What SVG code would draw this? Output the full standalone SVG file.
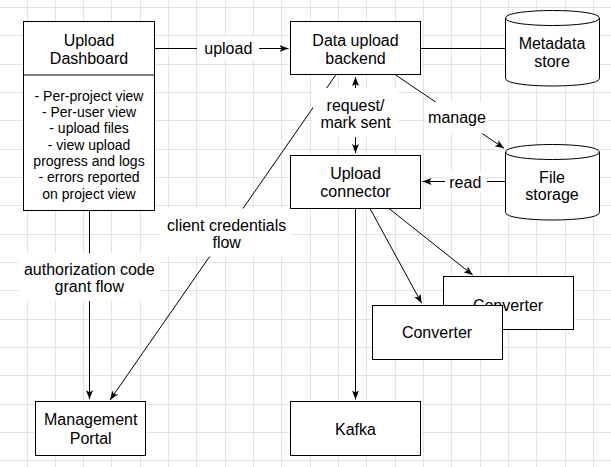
<svg xmlns="http://www.w3.org/2000/svg" width="611" height="467" viewBox="0 0 611 467">
  <style>
    .box { fill: #ffffff; stroke: #000000; stroke-width: 1; }
    .edge { fill: none; stroke: #000000; stroke-width: 1; }
    .t16 { font-family: "Liberation Sans", Arial, Helvetica, sans-serif; font-size: 16px; fill: #000000; text-anchor: middle; }
    .t14 { font-family: "Liberation Sans", Arial, Helvetica, sans-serif; font-size: 14px; fill: #000000; text-anchor: middle; }
    .lbg { fill: #ffffff; stroke: none; }
    .grid { fill: none; stroke: #e4e4e4; stroke-width: 1; shape-rendering: crispEdges; }
  </style>
  <defs>
    <marker id="arr" markerUnits="userSpaceOnUse" markerWidth="10" markerHeight="8" refX="9" refY="4" orient="auto-start-reverse">
      <path d="M0,0.5 L9,4 L0,7.5 L2,4 Z" fill="#000000"/>
    </marker>
  </defs>

  <rect x="0" y="0" width="611" height="467" fill="#ffffff"/>
  <g id="grid" class="grid">
    <path d="M27,0V467 M55.33,0V467 M83.66,0V467 M111.99,0V467 M140.32,0V467 M168.65,0V467 M196.98,0V467 M225.31,0V467 M253.64,0V467 M281.97,0V467 M310.3,0V467 M338.63,0V467 M366.96,0V467 M395.29,0V467 M423.62,0V467 M451.95,0V467 M480.28,0V467 M508.61,0V467 M536.94,0V467 M565.27,0V467 M593.6,0V467"/>
    <path d="M0,7.6H611 M0,35.93H611 M0,64.26H611 M0,92.59H611 M0,120.92H611 M0,149.25H611 M0,177.58H611 M0,205.91H611 M0,234.24H611 M0,262.57H611 M0,290.9H611 M0,319.23H611 M0,347.56H611 M0,375.89H611 M0,404.22H611 M0,432.55H611 M0,460.88H611"/>
  </g>

  <g id="connectors">
    <path class="edge" d="M154.5,48.5 L288.5,48.5" marker-end="url(#arr)"/>
    <path class="edge" d="M420.5,48.5 L505.5,48.5"/>
    <path class="edge" d="M355.5,77 L355.5,153" marker-start="url(#arr)" marker-end="url(#arr)"/>
    <path class="edge" d="M395.7,75 L504,148.3" marker-end="url(#arr)"/>
    <path class="edge" d="M505.5,181.5 L422.5,181.5" marker-end="url(#arr)"/>
    <path class="edge" d="M335.7,75 L110,400" marker-end="url(#arr)"/>
    <path class="edge" d="M89.5,211 L89.5,399.3" marker-end="url(#arr)"/>
    <path class="edge" d="M355.5,208.5 L355.5,399.5" marker-end="url(#arr)"/>
    <path class="edge" d="M370,208.5 L421.7,303.3" marker-end="url(#arr)"/>
    <path class="edge" d="M389,208.5 L472.7,275" marker-end="url(#arr)"/>

    <g id="label-upload">
      <rect class="lbg" x="197" y="37" width="62" height="23"/>
      <text class="t16" x="228.3" y="54">upload</text>
    </g>
    <g id="label-request">
      <rect class="lbg" x="313" y="88" width="85" height="49"/>
      <text class="t16" x="355.5" y="110.5">request/</text>
      <text class="t16" x="355.5" y="128">mark sent</text>
    </g>
    <g id="label-manage">
      <rect class="lbg" x="426" y="102" width="62" height="31.5"/>
      <text class="t16" x="457" y="123.3">manage</text>
    </g>
    <g id="label-read">
      <rect class="lbg" x="445" y="171" width="42" height="22"/>
      <text class="t16" x="465.3" y="187.5">read</text>
    </g>
    <g id="label-client">
      <rect class="lbg" x="161.5" y="208.5" width="130.5" height="48"/>
      <text class="t16" x="226.7" y="230.5">client credentials</text>
      <text class="t16" x="226.7" y="248">flow</text>
    </g>
    <g id="label-auth">
      <rect class="lbg" x="18.3" y="253.3" width="142.7" height="47.7"/>
      <text class="t16" x="89.3" y="274.5">authorization code</text>
      <text class="t16" x="89.3" y="292">grant flow</text>
    </g>
  </g>

  <g id="upload-dashboard">
    <rect class="box" x="23.5" y="21.5" width="131" height="189"/>
    <line class="edge" x1="23.5" y1="75" x2="154.5" y2="75"/>
    <text class="t16" x="89" y="46">Upload</text>
    <text class="t16" x="89" y="64">Dashboard</text>
    <text class="t14" x="89" y="100.7">- Per-project view</text>
    <text class="t14" x="89" y="117">- Per-user view</text>
    <text class="t14" x="89" y="133.3">- upload files</text>
    <text class="t14" x="89" y="149.6">- view upload</text>
    <text class="t14" x="89" y="165.9">progress and logs</text>
    <text class="t14" x="89" y="182.2">- errors reported</text>
    <text class="t14" x="89" y="198.5">on project view</text>
  </g>

  <g id="data-upload-backend">
    <rect class="box" x="290.5" y="21.5" width="130" height="53"/>
    <text class="t16" x="355.5" y="46">Data upload</text>
    <text class="t16" x="355.5" y="64">backend</text>
  </g>

  <g id="metadata-store" transform="translate(505.5,10.5)">
    <path class="box" d="M0,7.5 C0,-2.5 94,-2.5 94,7.5 L94,68 C94,78 0,78 0,68 Z"/>
    <path class="edge" d="M0,7.5 C0,17.5 94,17.5 94,7.5"/>
    <text class="t16" x="46.5" y="38.5">Metadata</text>
    <text class="t16" x="46.5" y="56.5">store</text>
  </g>

  <g id="upload-connector">
    <rect class="box" x="290.5" y="155.5" width="130" height="53"/>
    <text class="t16" x="355.5" y="179">Upload</text>
    <text class="t16" x="355.5" y="197">connector</text>
  </g>

  <g id="file-storage" transform="translate(505.5,144.5)">
    <path class="box" d="M0,7.5 C0,-2.5 94,-2.5 94,7.5 L94,68 C94,78 0,78 0,68 Z"/>
    <path class="edge" d="M0,7.5 C0,17.5 94,17.5 94,7.5"/>
    <text class="t16" x="46.5" y="38">File</text>
    <text class="t16" x="46.5" y="55.8">storage</text>
  </g>

  <g id="converter-back">
    <rect class="box" x="443.5" y="276.5" width="130" height="53"/>
    <text class="t16" x="508" y="310.7">Converter</text>
  </g>

  <g id="converter-front">
    <rect class="box" x="372.5" y="305.5" width="130" height="54"/>
    <text class="t16" x="437" y="337.7">Converter</text>
  </g>

  <g id="kafka">
    <rect class="box" x="290.5" y="401.5" width="130" height="54"/>
    <text class="t16" x="355.5" y="434.8">Kafka</text>
  </g>

  <g id="management-portal">
    <rect class="box" x="35.5" y="401.5" width="110" height="54"/>
    <text class="t16" x="90.7" y="425">Management</text>
    <text class="t16" x="90.7" y="443.8">Portal</text>
  </g>
</svg>
